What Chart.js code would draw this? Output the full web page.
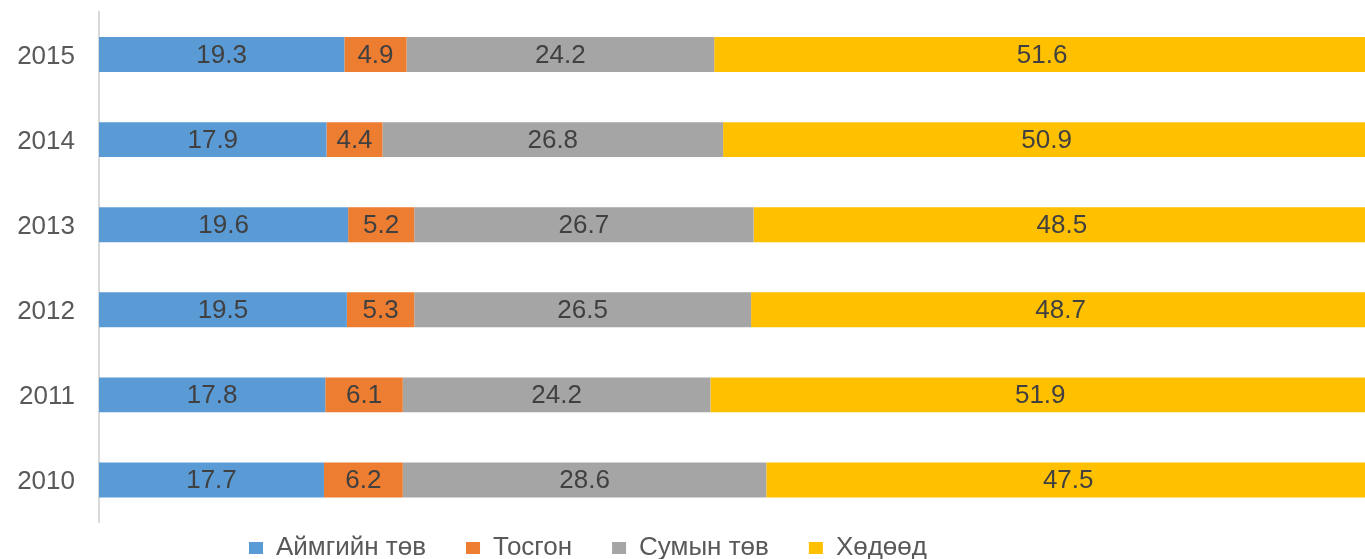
<!DOCTYPE html>
<html>
<head>
<meta charset="utf-8">
<script src="https://cdn.jsdelivr.net/npm/chart.js@4"></script>
<style>
  html, body { margin: 0; padding: 0; background: #fff; }
  #wrap { width: 1365px; height: 559px; }
</style>
</head>
<body>
<div id="wrap"><canvas id="chart"></canvas></div>
<script>
const years = ['2010', '2011', '2012', '2013', '2014', '2015'];
const seriesNames = ['Аймгийн төв', 'Тосгон', 'Сумын төв', 'Хөдөөд'];
const aimagTuv = [17.7, 17.8, 19.5, 19.6, 17.9, 19.3];
const tosgon = [6.2, 6.1, 5.3, 5.2, 4.4, 4.9];
const sumTuv = [28.6, 24.2, 26.5, 26.7, 26.8, 24.2];
const khudoo = [47.5, 51.9, 48.7, 48.5, 50.9, 51.6];
const colors = ['#5B9BD5', '#ED7D31', '#A5A5A5', '#FFC000'];

const FONT = 'Liberation Sans, Arial, sans-serif';

// labels in the middle of each segment
const barLabels = {
    id: 'barLabels',
    afterDatasetsDraw(chart) {
        const ctx = chart.ctx;
        ctx.save();
        ctx.font = '26px ' + FONT;
        ctx.fillStyle = '#404040';
        ctx.textAlign = 'center';
        ctx.textBaseline = 'middle';
        chart.data.datasets.forEach((ds, i) => {
            const meta = chart.getDatasetMeta(i);
            meta.data.forEach((bar, j) => {
                const p = bar.getCenterPoint();
                ctx.fillText(ds.data[j].toFixed(1), p.x, p.y + 1);
            });
        });
        ctx.restore();
    }
};

// move the legend to where it sits in the picture
const legendPlace = {
    id: 'legendPlace',
    afterLayout(chart) {
        const lg = chart.legend;
        if (!lg) return;
        lg.top = 495;
        lg.bottom = 559;
        lg.left = 209;
        lg.right = 1365;
    }
};

const ctx = document.getElementById('chart').getContext('2d');
new Chart(ctx, {
    type: 'bar',
    data: {
        labels: years,
        datasets: [
            { label: seriesNames[0], data: aimagTuv, backgroundColor: colors[0] },
            { label: seriesNames[1], data: tosgon, backgroundColor: colors[1] },
            { label: seriesNames[2], data: sumTuv, backgroundColor: colors[2] },
            { label: seriesNames[3], data: khudoo, backgroundColor: colors[3] }
        ]
    },
    options: {
        indexAxis: 'y',
        animation: false,
        responsive: true,
        maintainAspectRatio: false,
        datasets: { bar: { categoryPercentage: 1, barPercentage: 0.41, borderWidth: 0 } },
        layout: { padding: { left: 0, right: 0, top: 12, bottom: 0 } },
        plugins: {
            tooltip: { enabled: false },
            legend: {
                position: 'bottom',
                align: 'start',
                maxHeight: 36.5,
                labels: {
                    boxWidth: 14,
                    boxHeight: 12,
                    padding: 40,
                    color: '#595959',
                    font: { family: FONT, size: 26 }
                }
            }
        },
        scales: {
            // the bars run a little past the right edge of the picture
            x: { stacked: true, min: 0, max: 99.6, display: false },
            y: {
                stacked: true,
                reverse: true,
                grid: { display: false, drawTicks: false },
                border: { display: true, color: '#D9D9D9', width: 2 },
                ticks: { color: '#595959', padding: 24, labelOffset: 2, font: { family: FONT, size: 26 } },
                afterFit(scale) {
                    scale.width = 99;
                    scale.paddingTop = 0;
                    scale.paddingBottom = 0;
                }
            }
        }
    },
    plugins: [barLabels, legendPlace]
});
</script>
</body>
</html>
